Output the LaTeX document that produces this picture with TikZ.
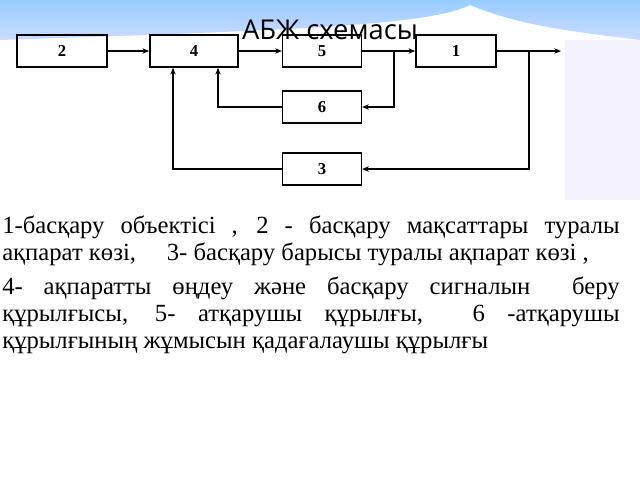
\documentclass[tikz,border=0pt]{standalone}
\usepackage{fontspec}
\setmainfont{Liberation Serif}
\newfontfamily\titlefont{Open Sans}
\usetikzlibrary{arrows.meta}
\begin{document}
\begin{tikzpicture}[x=0.75pt,y=-0.75pt,
  blk/.style={draw,line width=1.2pt,minimum height=24pt,inner sep=0pt,font=\bfseries\fontsize{12.5}{14}\selectfont},
  con/.style={line width=1pt,-{Stealth[length=5pt,width=4pt]}}]
\useasboundingbox (0,0) rectangle (640,480);
\fill[white] (0,0) rectangle (640,480);
\shade[top color=cyan!50!blue!40,bottom color=cyan!30!blue!20] (0,0) -- (640,0) -- (640,40) .. controls (560,30) and (520,25) .. (470,5) .. controls (430,25) and (300,30) .. (0,40) -- cycle;
\fill[cyan!6!blue!4] (565,40) rectangle (640,200);
\node[font=\titlefont\fontsize{20.5}{24}\selectfont] (title) at (330,30) {АБЖ схемасы};
\node[blk,minimum width=67.5pt] (b2) at (62,51) {2};
\node[blk,minimum width=66pt] (b4) at (194,51) {4};
\node[blk,minimum width=59pt] (b5) at (322,51) {5};
\node[blk,minimum width=60pt] (b1) at (456,51) {1};
\node[blk,minimum width=59pt] (b6) at (322,107) {6};
\node[blk,minimum width=59pt] (b3) at (322,169) {3};
\coordinate (out) at (561,51);
\coordinate (j1) at (394,51);
\coordinate (j2) at (529,51);
\draw[con] (b2) -- (b4);
\draw[con] (b4) -- (b5);
\draw[con] (b5) -- (b1);
\draw[con] (b1) -- (out);
\draw[con] (j1) |- (b6.east);
\draw[con] (j2) |- (b3.east);
\draw[con] (b6.west) -| (b4.south -| 218,0);
\draw[con] (b3.west) -| (b4.south -| 173,0);
\node[anchor=north west,inner sep=0pt,text width=463pt,align=justify,
  font=\fontsize{18.5}{20.3}\selectfont] (txt) at (2,216) {\baselineskip=20.3pt
1-басқару объектісі , 2 - басқару мақсаттары туралы\linebreak
ақпарат көзі,\ \ \ \ \ 3- басқару барысы туралы ақпарат көзі ,\par\vspace{4.5pt}
4- ақпаратты өңдеу және басқару сигналын \ беру\linebreak
құрылғысы, 5- атқарушы құрылғы, \ 6 -атқарушы\linebreak
құрылғының жұмысын қадағалаушы құрылғы\par};
\end{tikzpicture}
\end{document}
